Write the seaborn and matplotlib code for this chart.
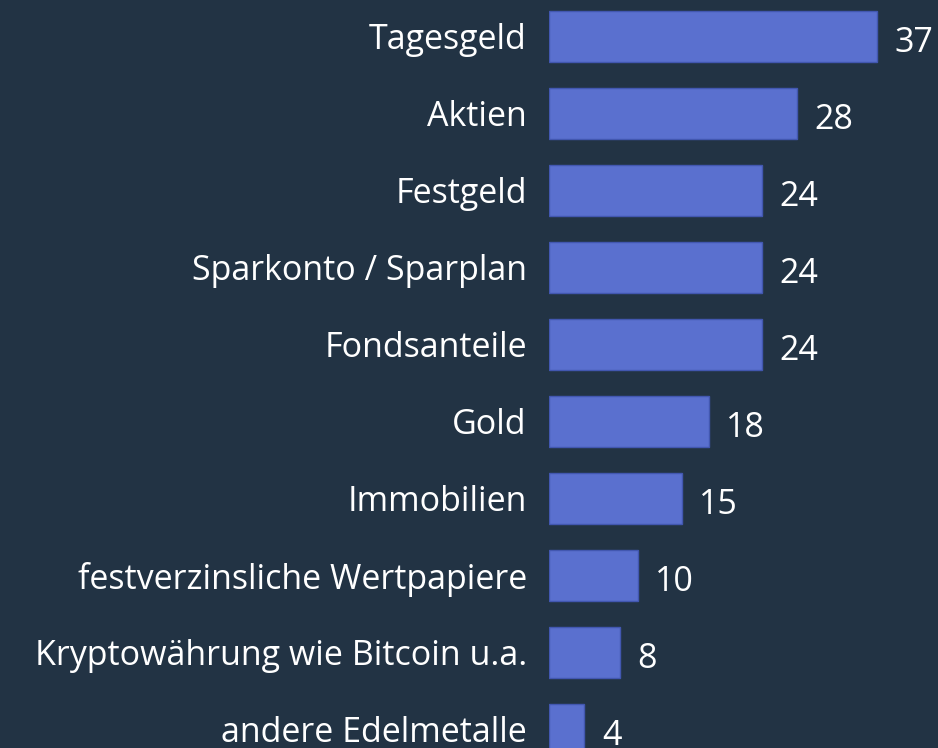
import matplotlib.pyplot as plt
import seaborn as sns
import pandas as pd

# Data
categories = ["Tagesgeld", "Aktien", "Festgeld", "Sparkonto / Sparplan", "Fondsanteile",
              "Gold", "Immobilien", "festverzinsliche Wertpapiere",
              "Kryptowährung wie Bitcoin u.a.", "andere Edelmetalle"]
values = [37, 28, 24, 24, 24, 18, 15, 10, 8, 4]

df = pd.DataFrame({"Anlage": categories, "Anteil": values})

BG = "#223344"
BAR = "#5a70cf"

sns.set_style("dark")
plt.rcParams["font.family"] = ["Open Sans", "DejaVu Sans"]

fig = plt.figure(figsize=(9.38, 7.48), dpi=100, facecolor=BG)
ax = fig.add_axes([549 / 938, 0, 389 / 938, 1])
ax.set_facecolor(BG)

sns.barplot(data=df, x="Anteil", y="Anlage", orient="h", color=BAR,
            width=0.662, edgecolor="#4257b0", linewidth=1, saturation=1, ax=ax)

# layout: first bar centre 36.5px from top, 77px pitch; 8.865px per unit
ax.set_xlim(0, 389 / 8.865)
ax.set_ylim((748 - 36.5) / 77, -36.5 / 77)

labels = ax.bar_label(ax.containers[0], labels=[str(v) for v in values], padding=13,
                      color="white", fontsize=24.5)
for t in labels:
    t.set_va("baseline")
    t.xyann = (12.5, -11)

ax.tick_params(axis="y", length=0, pad=16, labelsize=24.5, labelcolor="white")
ax.set_xticks([])
ax.set_xlabel("")
ax.set_ylabel("")
for s in ax.spines.values():
    s.set_visible(False)
ax.grid(False)

fig.savefig("out.png", dpi=100, facecolor=BG)
